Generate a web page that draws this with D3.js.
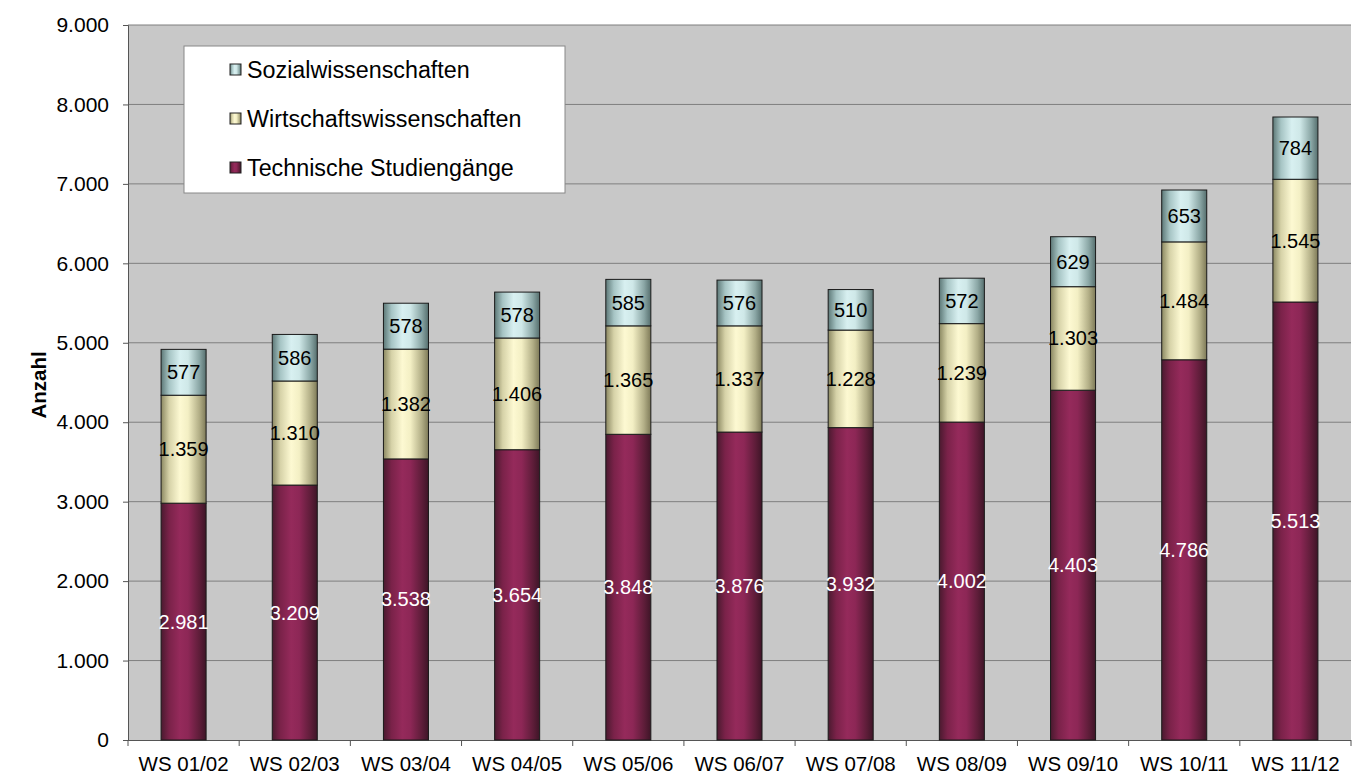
<!DOCTYPE html>
<html><head><meta charset="utf-8">
<script src="https://cdn.jsdelivr.net/npm/d3@7"></script>
<style>html,body{margin:0;padding:0;background:#fff;}svg{display:block;font-family:"Liberation Sans",Arial,sans-serif;}</style>
</head><body>
<svg id="chart" width="1366" height="776"></svg>
<script>
const categories = ["WS 01/02","WS 02/03","WS 03/04","WS 04/05","WS 05/06","WS 06/07","WS 07/08","WS 08/09","WS 09/10","WS 10/11","WS 11/12"];
const technische = [2981,3209,3538,3654,3848,3876,3932,4002,4403,4786,5513];
const wirtschaft = [1359,1310,1382,1406,1365,1337,1228,1239,1303,1484,1545];
const sozial = [577,586,578,578,585,576,510,572,629,653,784];
const seriesNames = ["Technische Studiengänge","Wirtschaftswissenschaften","Sozialwissenschaften"];
const yTicks = [0,1000,2000,3000,4000,5000,6000,7000,8000,9000];

const locale = d3.formatLocale({decimal:",",thousands:".",grouping:[3],currency:["","€"]});
const fmt = locale.format(",d");

const svg = d3.select("#chart");
const L=128, R=1351, T=25, B=740;
const x = d3.scaleBand().domain(categories).range([L,R]).paddingInner(0.595).paddingOuter(0.2975);
const y = d3.scaleLinear().domain([0,9000]).range([B,T]);

const defs = svg.append("defs");
const grads = [
  {id:"gT", c:["#4a1a2f","#7a2249","#952a5b","#8d2756","#5e1d39","#3e1527"]},
  {id:"gW", c:["#8b8862","#d6d2a8","#fdf9d2","#f3efc4","#b2ae86","#7e7a58"]},
  {id:"gS", c:["#5d7877","#a6c4c4","#d8f0f1","#cfe8e8","#8aa6a5","#566f6e"]}
];
const offs=[0,0.18,0.42,0.6,0.85,1];
grads.forEach(g=>{
  const lg=defs.append("linearGradient").attr("id",g.id).attr("x1","0").attr("x2","1").attr("y1","0").attr("y2","0");
  g.c.forEach((c,i)=>lg.append("stop").attr("offset",offs[i]).attr("stop-color",c));
});

svg.append("rect").attr("x",L).attr("y",T).attr("width",R-L).attr("height",B-T).attr("fill","#c8c8c8");
svg.append("g").selectAll("line").data(yTicks.filter(d=>d>0)).join("line")
  .attr("x1",L).attr("x2",R).attr("y1",d=>y(d)).attr("y2",d=>y(d))
  .attr("stroke","#7f7f7f").attr("stroke-width",1);

const yAxis = d3.axisLeft(y).tickValues(yTicks).tickFormat(fmt).tickSize(5).tickPadding(14);
const gy = svg.append("g").attr("transform",`translate(${L},0)`).call(yAxis);
gy.select(".domain").attr("stroke","#555").attr("d",`M-5,${T+0.5}H0.5V${B+0.5}`);
gy.selectAll(".tick line").attr("stroke","#555");
gy.selectAll("text").attr("font-size",21).attr("fill","#000").attr("font-family","Liberation Sans, Arial, sans-serif");

const xAxis = d3.axisBottom(x).tickSize(0).tickPadding(16);
const gx = svg.append("g").attr("transform",`translate(0,${B})`).call(xAxis);
gx.select(".domain").attr("stroke","#555").attr("d",`M${L},0.5H${R}`);
gx.selectAll("text").attr("font-size",20.5).attr("fill","#000").attr("font-family","Liberation Sans, Arial, sans-serif");
const step = x.step();
const bounds = d3.range(categories.length+1).map(i=>x(categories[0]) - x.paddingOuter()*step + i*step);
svg.append("g").selectAll("line").data(bounds).join("line")
  .attr("x1",d=>d).attr("x2",d=>d).attr("y1",B).attr("y2",B+6).attr("stroke","#555");

svg.append("text").attr("transform",`translate(46,385) rotate(-90)`).attr("text-anchor","middle")
  .attr("font-size",20.5).attr("font-weight","bold").text("Anzahl");

const rows = categories.map((c,i)=>({cat:c, t:technische[i], w:wirtschaft[i], s:sozial[i]}));
const stack = d3.stack().keys(["t","w","s"])(rows);
const fills = ["url(#gT)","url(#gW)","url(#gS)"];
const labelColors = ["#fff","#000","#000"];
stack.forEach((layer,k)=>{
  const g = svg.append("g");
  g.selectAll("rect").data(layer).join("rect")
    .attr("x",d=>x(d.data.cat)).attr("width",x.bandwidth())
    .attr("y",d=>y(d[1])).attr("height",d=>y(d[0])-y(d[1]))
    .attr("fill",fills[k]).attr("stroke","#1a1a1a").attr("stroke-width",1);
  g.selectAll("text").data(layer).join("text")
    .attr("x",d=>x(d.data.cat)+x.bandwidth()/2)
    .attr("y",d=>y((d[0]+d[1])/2))
    .attr("dy","0.35em").attr("text-anchor","middle").attr("font-size",20)
    .attr("fill",labelColors[k]).text(d=>fmt(d[1]-d[0]));
});

const lg = svg.append("g");
lg.append("rect").attr("x",184).attr("y",46).attr("width",381).attr("height",147).attr("fill","#fff").attr("stroke","#888");
const legendItems = [{n:seriesNames[2],f:fills[2]},{n:seriesNames[1],f:fills[1]},{n:seriesNames[0],f:fills[0]}];
legendItems.forEach((it,i)=>{
  const cy = 70 + i*49;
  lg.append("rect").attr("x",230).attr("y",cy-6).attr("width",11).attr("height",11).attr("fill",it.f).attr("stroke","#222");
  lg.append("text").attr("x",247).attr("y",cy).attr("dy","0.35em").attr("font-size",23.3).text(it.n);
});
</script>
</body></html>
